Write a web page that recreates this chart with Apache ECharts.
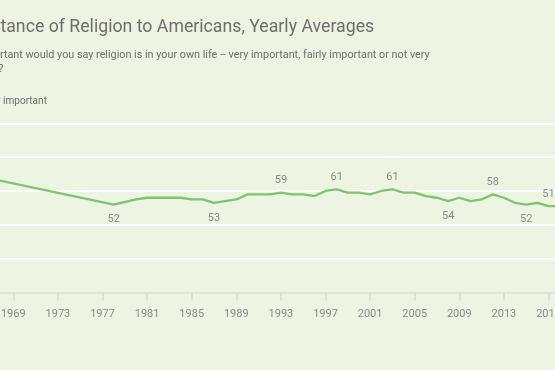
<!DOCTYPE html>
<html><head><meta charset="utf-8">
<script src="https://cdn.jsdelivr.net/npm/echarts@6/dist/echarts.min.js"></script>
<style>html,body{margin:0;padding:0;background:#EDF4E1;overflow:hidden}#c{width:555px;height:370px}</style>
</head><body><div id="c"></div>
<script>
// ---- data ----
const titleText = 'Importance of Religion to Americans, Yearly Averages';
const subtitleLines = ['How important would you say religion is in your own life -- very important, fairly important or not very', 'important?'];
const seriesName = 'Very important';
const years = [1965, 1978, 1980, 1981, 1982, 1983, 1984, 1985, 1986, 1987, 1988, 1989, 1990, 1991, 1992, 1993, 1994, 1995, 1996, 1997, 1998, 1999, 2000, 2001, 2002, 2003, 2004, 2005, 2006, 2007, 2008, 2009, 2010, 2011, 2012, 2013, 2014, 2015, 2016, 2017, 2018];
const veryImportant = [70, 52, 55, 56, 56, 56, 56, 55, 55, 53, 54, 55, 58, 58, 58, 59, 58, 58, 57, 60, 61, 59, 59, 58, 60, 61, 59, 59, 57, 56, 54, 56, 54, 55, 58, 56, 53, 52, 53, 51, 51];
const labeledYears = [1978, 1987, 1993, 1998, 2003, 2008, 2012, 2015, 2017];
const labelSides = ['bottom', 'bottom', 'top', 'top', 'top', 'bottom', 'top', 'bottom', 'top'];
const xMin = 1965, xMax = 2021, xStep = 4;
const yMin = 0, yMax = 100, yStep = 20;

// ---- layout helpers ----
const FONT = 'Roboto, "Noto Sans", sans-serif';
const mctx = document.createElement('canvas').getContext('2d');
function tw(t, size) { mctx.font = size + 'px ' + FONT; return mctx.measureText(t).width; }
const titleSize = 17 * 374 / tw('tance of Religion to Americans, Yearly Averages', 17);
const subSize = 11 * 430 / tw('rtant would you say religion is in your own life -- very important, fairly important or not very', 11);
const legSize = 11 * 44 / tw('important', 11);
const titleLeft = -tw('Impor', titleSize);
const subLeft = -tw('How impo', subSize);
const legItemW = 20;
const legLeft = 3 - tw('Very ', legSize) - legItemW - 5;

const TXT = '#6e6e6e';
const LBL = '#8a8a8a';
const GREEN = '#7cc56e';

const data = years.map((y, i) => {
  const k = labeledYears.indexOf(y);
  const item = { value: [y, veryImportant[i]] };
  if (k >= 0) {
    const top = labelSides[k] === 'top';
    item.label = { show: true, position: labelSides[k], distance: top ? 6 : 9, color: LBL, fontSize: 11, fontFamily: FONT, formatter: p => p.value[1] };
  }
  return item;
});

const chart = echarts.init(document.getElementById('c'), null, { renderer: 'canvas' });
chart.setOption({
  animation: false,
  backgroundColor: '#EDF4E1',
  title: [
    { text: titleText, left: titleLeft, top: 28.7 - titleSize * 0.6, padding: 0,
      textStyle: { color: TXT, fontSize: titleSize, fontWeight: 'normal', fontFamily: FONT } },
    { text: subtitleLines.join('\n'), left: subLeft, top: 49, padding: 0,
      textStyle: { color: TXT, fontSize: subSize, lineHeight: 13.5, fontWeight: 'normal', fontFamily: FONT } }
  ],
  legend: {
    left: legLeft, top: 96, padding: 0, itemWidth: legItemW, itemHeight: 14, itemGap: 10,
    icon: 'path://M0,6L20,6L20,8L0,8Z',
    textStyle: { color: TXT, fontSize: legSize, fontFamily: FONT },
    data: [seriesName]
  },
  grid: { left: -31.3, right: -38.1, top: 123.3, bottom: 77.5, containLabel: false, outerBoundsMode: 'none' },
  xAxis: {
    type: 'value', min: xMin, max: xMax, interval: xStep,
    axisLine: { show: true, lineStyle: { color: '#d6dbd0', width: 1.5 } },
    axisTick: { show: true, length: 8, lineStyle: { color: '#d6dbd0', width: 1.5 } },
    axisLabel: { color: LBL, fontSize: 11, fontFamily: FONT, margin: 16, formatter: v => String(v) },
    splitLine: { show: false }
  },
  yAxis: {
    type: 'value', min: yMin, max: yMax, interval: yStep,
    axisLine: { show: false }, axisTick: { show: false }, axisLabel: { show: false },
    splitLine: { show: true, lineStyle: { color: '#ffffff', width: 2 } }
  },
  series: [{
    name: seriesName, type: 'line', data: data,
    symbol: 'circle', symbolSize: 1, showSymbol: true,
    itemStyle: { color: GREEN },
    lineStyle: { color: GREEN, width: 2.3 },
    label: { show: false },
    emphasis: { disabled: true }
  }]
});
</script>
</body></html>
